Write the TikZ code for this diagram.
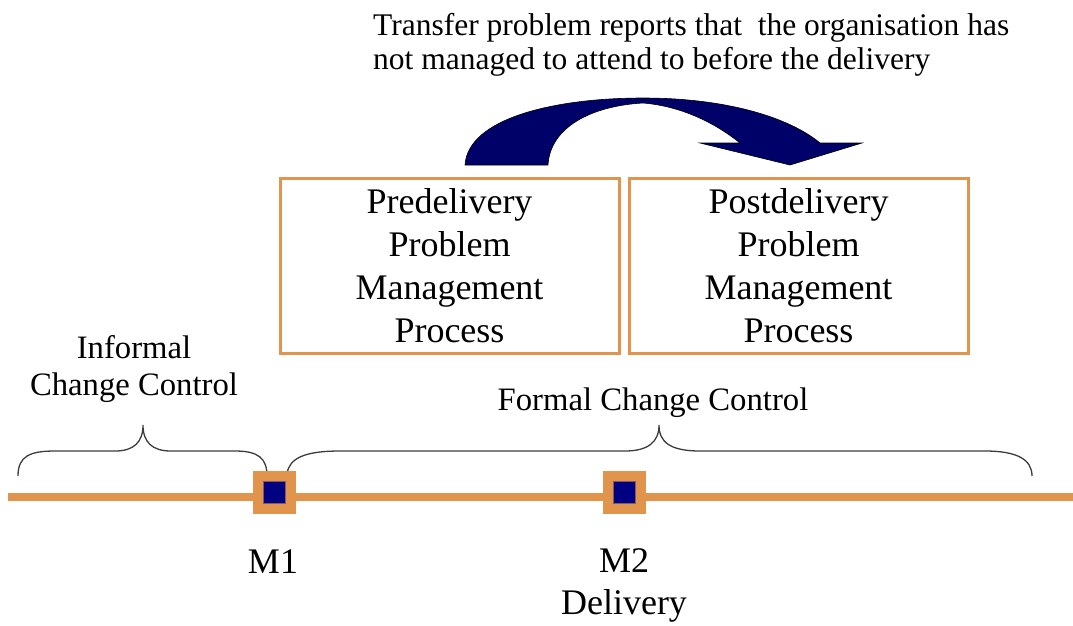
\documentclass[tikz,border=0pt]{standalone}
\usepackage{fontspec}
\setmainfont{Liberation Serif}
\definecolor{procorange}{RGB}{224,148,76}
\definecolor{msnavy}{RGB}{0,0,128}
\definecolor{arrownavy}{RGB}{0,0,105}
\definecolor{bracegray}{RGB}{60,60,60}
\begin{document}
\begin{tikzpicture}[x=1pt,y=-1pt,
  procbox/.style={draw=procorange,line width=3pt,minimum width=339pt,minimum height=175pt,inner sep=0pt,align=center,font=\fontsize{36}{43}\selectfont},
  msouter/.style={fill=procorange,minimum size=43pt,inner sep=0pt},
  msinner/.style={fill=msnavy,draw=procorange!60!msnavy,line width=0.4pt,minimum size=22pt,inner sep=0pt},
  bigtext/.style={font=\fontsize{36}{42}\selectfont,inner sep=0pt,align=center},
  labeltext/.style={font=\fontsize{32.7}{37}\selectfont,inner sep=0pt,align=center},
  toptext/.style={font=\fontsize{31.5}{34}\selectfont,inner sep=0pt,align=left},
  bracestyle/.style={draw=bracegray,line width=1.3pt},
  timeline/.style={draw=procorange,line width=8pt}
]
\useasboundingbox (0,0) rectangle (1073,625);

% top text
\node[toptext,anchor=north west] (note) at (373,13.5) {Transfer problem reports that\ \ the organisation has\\not managed to attend to before the delivery};

% curved block arrow
\fill[arrownavy,draw=black,line width=0.6pt]
  (465,165) .. controls (468,118) and (555,98) .. (643,98)
  .. controls (728,98) and (790,118) .. (820,143)
  -- (862,143) -- (790,165) -- (700,143) -- (740,143)
  .. controls (714,122) and (680,106) .. (643,103)
  .. controls (590,106) and (550,128) .. (548,165) -- cycle;

% process boxes
\node[procbox] (pre) at (449.5,265.5) {Predelivery\\Problem\\Management\\Process};
\node[procbox] (post) at (798.5,265.5) {Postdelivery\\Problem\\Management\\Process};

% labels
\node[labeltext,anchor=north] (informal) at (134,335.7) {Informal\\Change Control};
\node[labeltext,anchor=base] (formal) at (653,410) {Formal Change Control};

% braces
\coordinate (b1l) at (18,476);
\coordinate (b1t) at (143,425);
\coordinate (b1r) at (267,476);
\draw[bracestyle] (b1l) .. controls (18,456) and (30,451) .. (55,451) -- (115,451)
  .. controls (134,451) and (143,442) .. (b1t)
  .. controls (143,442) and (152,451) .. (171,451) -- (235,451)
  .. controls (258,451) and (267,458) .. (b1r);
\coordinate (b2l) at (287,474);
\coordinate (b2t) at (659,425);
\coordinate (b2r) at (1032,476);
\draw[bracestyle] (b2l) .. controls (289,458) and (305,451) .. (340,451) -- (625,451)
  .. controls (648,451) and (659,442) .. (b2t)
  .. controls (659,442) and (670,451) .. (700,451) -- (985,451)
  .. controls (1018,451) and (1032,460) .. (b2r);

% timeline
\coordinate (tl) at (8,497);
\coordinate (tr) at (1073,497);
\draw[timeline] (tl) -- (tr);

% milestones
\node[msouter] (m1o) at (274.5,492) {};
\node[msinner] (m1i) at (m1o.center) {};
\node[msouter] (m2o) at (624.5,492) {};
\node[msinner] (m2i) at (m2o.center) {};

\node[bigtext,anchor=base] (m1) at (273,573) {M1};
\node[bigtext,anchor=north] (m2) at (624,548.7) {M2\\Delivery};
\end{tikzpicture}
\end{document}
